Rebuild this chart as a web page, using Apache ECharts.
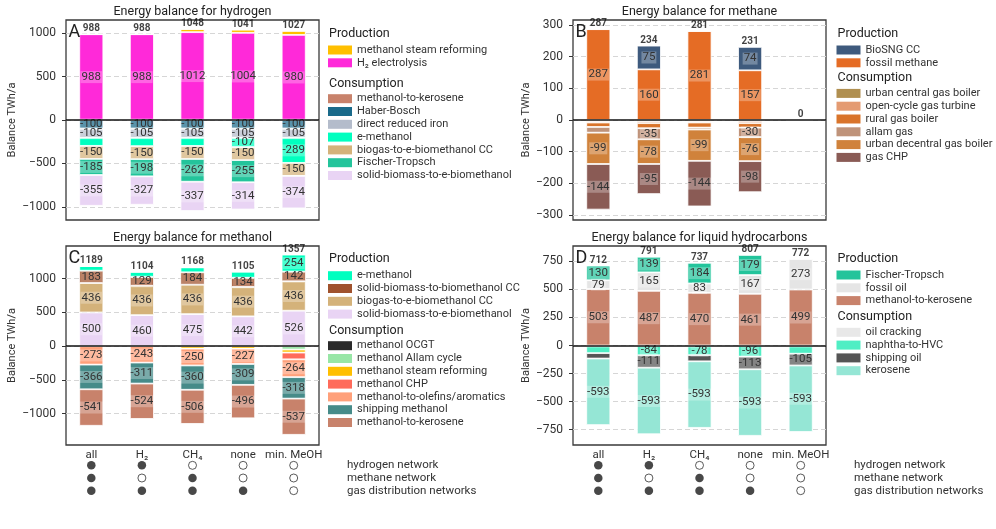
<!DOCTYPE html>
<html>
<head>
<meta charset="utf-8">
<script src="https://cdn.jsdelivr.net/npm/echarts@6/dist/echarts.min.js"></script>
<style>
  html, body { margin: 0; padding: 0; background: #fff; }
  #chart { width: 996px; height: 529px; }
</style>
</head>
<body>
<div id="chart"></div>
<script>
// scenarios and network flags
const scenarios = ['all', 'H₂', 'CH₄', 'none', 'min. MeOH'];
const networkRows = ['hydrogen network', 'methane network', 'gas distribution networks'];
const hydrogenNetwork = [1, 1, 0, 0, 0];
const methaneNetwork = [1, 0, 1, 0, 0];
const gasDistribution = [1, 1, 1, 1, 0];

// A - hydrogen (production listed top first, consumption listed from zero down)
const h2ProdNames = ['methanol steam reforming', 'H₂ electrolysis'];
const h2Prod = [
  [0, 0, 36, 37, 47],
  [988, 988, 1012, 1004, 980]
];
const h2ConsNames = ['methanol-to-kerosene', 'Haber-Bosch', 'direct reduced iron', 'e-methanol',
  'biogas-to-e-biomethanol CC', 'Fischer-Tropsch', 'solid-biomass-to-e-biomethanol'];
const h2Cons = [
  [0, 0, 0, 0, 0],
  [-100, -100, -100, -100, -100],
  [-105, -105, -105, -105, -105],
  [-93, -96, -94, -107, -289],
  [-150, -150, -150, -150, -150],
  [-185, -198, -262, -255, 0],
  [-355, -327, -337, -314, -374]
];
const h2Totals = [988, 988, 1048, 1041, 1027];

// B - methane
const ch4ProdNames = ['BioSNG CC', 'fossil methane'];
const ch4Prod = [
  [0, 75, 0, 74, 0],
  [287, 160, 281, 157, 0]
];
const ch4ConsNames = ['urban central gas boiler', 'open-cycle gas turbine', 'rural gas boiler',
  'allam gas', 'urban decentral gas boiler', 'gas CHP'];
const ch4Cons = [
  [-4, -4, -4, -3, 0],
  [-4, -6, -4, -7, 0],
  [-14, -16, -16, -14, 0],
  [-18, -35, -6, -30, 0],
  [-99, -78, -99, -76, 0],
  [-144, -95, -144, -98, 0]
];
const ch4Totals = [287, 234, 281, 231, 0];

// C - methanol
const meohProdNames = ['e-methanol', 'solid-biomass-to-biomethanol CC', 'biogas-to-e-biomethanol CC',
  'solid-biomass-to-e-biomethanol'];
const meohProd = [
  [70, 79, 73, 93, 254],
  [183, 129, 184, 134, 142],
  [436, 436, 436, 436, 436],
  [500, 460, 475, 442, 526]
];
const meohConsNames = ['methanol OCGT', 'methanol Allam cycle', 'methanol steam reforming', 'methanol CHP',
  'methanol-to-olefins/aromatics', 'shipping methanol', 'methanol-to-kerosene'];
const meohCons = [
  [0, 0, 0, 0, 0],
  [0, 0, 0, 0, -50],
  [0, 0, -36, -37, -45],
  [0, 0, 0, 0, -100],
  [-273, -243, -250, -227, -264],
  [-366, -311, -360, -309, -318],
  [-541, -524, -506, -496, -537]
];
const meohTotals = [1189, 1104, 1168, 1105, 1357];

// D - liquid hydrocarbons
const oilProdNames = ['Fischer-Tropsch', 'fossil oil', 'methanol-to-kerosene'];
const oilProd = [
  [130, 139, 184, 179, 0],
  [79, 165, 83, 167, 273],
  [503, 487, 470, 461, 499]
];
const oilConsNames = ['oil cracking', 'naphtha-to-HVC', 'shipping oil', 'kerosene'];
const oilCons = [
  [-8, -3, -8, -3, -8],
  [-60, -84, -78, -96, -65],
  [-48, -111, -55, -113, -105],
  [-593, -593, -593, -593, -593]
];
const oilTotals = [712, 791, 737, 807, 772];

// colours
const h2ProdColors = ['#ffbf00', '#ff29d9'];
const h2ConsColors = ['#c8826b', '#1a6a8a', '#b4bccb', '#00ffbf', '#d4b27a', '#23c49b', '#e9d4f4'];
const ch4ProdColors = ['#3e5a7d', '#e56c25'];
const ch4ConsColors = ['#b08f50', '#e49b72', '#d9742b', '#bf937a', '#d0823b', '#8a5b55'];
const meohProdColors = ['#00ffbf', '#a0522d', '#d4b27a', '#e9d4f4'];
const meohConsColors = ['#2b2b2b', '#98e6a6', '#ffbf00', '#ff6b5b', '#ffa07a', '#468b89', '#c8826b'];
const oilProdColors = ['#23c49b', '#e5e5e5', '#c8826b'];
const oilConsColors = ['#e8e8e8', '#50eec4', '#555555', '#95e6d5'];

const FONT = 'Roboto, "Noto Sans", sans-serif';

const panels = [
  { key: 'A', title: 'Energy balance for hydrogen', left: 66, top: 20, height: 200, min: -1152, max: 1152,
    ticks: [-1000, -500, 0, 500, 1000], nameGap: 48, labelMin: 99.5, showX: false,
    prodNames: h2ProdNames, prod: h2Prod, prodColors: h2ProdColors,
    consNames: h2ConsNames, cons: h2Cons, consColors: h2ConsColors, totals: h2Totals,
    legendLeft: 328, prodTop: 43.6, consTop: 92.3, prodHead: 35.7, consHead: 85 },
  { key: 'B', title: 'Energy balance for methane', left: 573, top: 20, height: 200, min: -316, max: 316,
    ticks: [-300, -200, -100, 0, 100, 200, 300], nameGap: 40, labelMin: 25, showX: false,
    prodNames: ch4ProdNames, prod: ch4Prod, prodColors: ch4ProdColors,
    consNames: ch4ConsNames, cons: ch4Cons, consColors: ch4ConsColors, totals: ch4Totals,
    legendLeft: 836.5, prodTop: 43.6, consTop: 87, prodHead: 35.7, consHead: 79.3 },
  { key: 'C', title: 'Energy balance for methanol', left: 66, top: 246, height: 199, min: -1465, max: 1485,
    ticks: [-1000, -500, 0, 500, 1000], nameGap: 48, labelMin: 120, showX: true,
    prodNames: meohProdNames, prod: meohProd, prodColors: meohProdColors,
    consNames: meohConsNames, cons: meohCons, consColors: meohConsColors, totals: meohTotals,
    legendLeft: 328, prodTop: 269.3, consTop: 339.3, prodHead: 260.7, consHead: 332.7 },
  { key: 'D', title: 'Energy balance for liquid hydrocarbons', left: 573, top: 246, height: 199, min: -887, max: 887,
    ticks: [-750, -500, -250, 0, 250, 500, 750], nameGap: 40, labelMin: 75, showX: true,
    prodNames: oilProdNames, prod: oilProd, prodColors: oilProdColors,
    consNames: oilConsNames, cons: oilCons, consColors: oilConsColors, totals: oilTotals,
    legendLeft: 836.5, prodTop: 268.6, consTop: 325.9, prodHead: 260.7, consHead: 318.3 }
];
const PW = 253;

const grid = [], xAxis = [], yAxis = [], series = [], legend = [], graphic = [];

function barSeries(p, i, name, values, color) {
  return {
    type: 'bar',
    name: p.key + '|' + name,
    xAxisIndex: i, yAxisIndex: i,
    stack: 'stack' + p.key,
    barWidth: 24,
    z: 10,
    itemStyle: { color: color, borderColor: '#fff', borderWidth: 0.8 },
    label: {
      position: 'inside', color: '#333', fontSize: 11.5, fontFamily: FONT,
      backgroundColor: 'rgba(255,255,255,0.28)', padding: [0, 1]
    },
    data: values.map(v => ({ value: v, label: { show: Math.abs(v) >= p.labelMin } }))
  };
}

panels.forEach((p, i) => {
  grid.push({ left: p.left, top: p.top, width: PW, height: p.height, show: true,
    borderColor: '#3a3a3a', borderWidth: 1.3 });
  xAxis.push({
    type: 'category', gridIndex: i, data: scenarios,
    axisLine: { show: false }, axisTick: { show: false },
    axisLabel: { show: p.showX, interval: 0, hideOverlap: false, color: '#333', fontSize: 11.5,
      fontFamily: FONT, margin: 4 }
  });
  yAxis.push({
    type: 'value', gridIndex: i, min: p.min, max: p.max,
    name: 'Balance TWh/a', nameLocation: 'middle', nameGap: p.nameGap,
    nameTextStyle: { fontSize: 11, color: '#333', fontFamily: FONT },
    axisLine: { show: false },
    axisTick: { show: true, length: 4, customValues: p.ticks, lineStyle: { color: '#333' } },
    axisLabel: { customValues: p.ticks, color: '#333', fontSize: 12, fontFamily: FONT, margin: 10,
      formatter: v => String(v).replace('-', '−') },
    splitLine: { show: true, lineStyle: { color: '#d6d6d6', type: [5, 3], width: 1 } }
  });
  // production, stacked bottom first
  for (let j = p.prod.length - 1; j >= 0; j--) {
    series.push(barSeries(p, i, p.prodNames[j], p.prod[j], p.prodColors[j]));
  }
  // consumption, stacked from zero downwards
  p.consNames.forEach((n, j) => series.push(barSeries(p, i, n, p.cons[j], p.consColors[j])));
  // totals on top + zero line
  series.push({
    type: 'scatter', name: p.key + '|total', xAxisIndex: i, yAxisIndex: i,
    symbolSize: 1, itemStyle: { color: 'rgba(0,0,0,0)' }, z: 20,
    label: { show: true, position: 'top', distance: 0, color: '#111', fontSize: 10,
      fontWeight: 'bold', fontFamily: FONT, formatter: d => d.value },
    data: p.totals,
    markLine: { silent: true, symbol: 'none', z: 20, label: { show: false },
      lineStyle: { color: '#111', width: 1.6, type: 'solid' }, data: [{ yAxis: 0 }] }
  });

  const legendBase = {
    orient: 'vertical', left: p.legendLeft, padding: 0, itemGap: 0,
    itemWidth: 24, itemHeight: 9, icon: 'rect', selectedMode: false,
    itemStyle: { borderWidth: 0 },
    textStyle: { fontSize: 11, color: '#333', fontFamily: FONT, lineHeight: 12.8 },
    formatter: n => n.split('|')[1]
  };
  legend.push(Object.assign({}, legendBase, { top: p.prodTop, data: p.prodNames.map(n => p.key + '|' + n) }));
  legend.push(Object.assign({}, legendBase, { top: p.consTop, data: p.consNames.map(n => p.key + '|' + n) }));

  graphic.push({ type: 'text', left: p.legendLeft + 1, top: p.prodHead - 8,
    style: { text: 'Production', fontSize: 12.5, fill: '#222', fontFamily: FONT } });
  graphic.push({ type: 'text', left: p.legendLeft + 1, top: p.consHead - 8,
    style: { text: 'Consumption', fontSize: 12.5, fill: '#222', fontFamily: FONT } });
  graphic.push({ type: 'text', x: p.left + PW / 2, y: p.top - 8.5,
    style: { text: p.title, fontSize: 12.5, fill: '#222', fontFamily: FONT,
      textAlign: 'center', textVerticalAlign: 'middle' } });
  graphic.push({ type: 'text', x: p.left + 2.5, y: p.top + 12, z: 30,
    style: { text: p.key, fontSize: 18, fill: '#222', fontFamily: FONT, textVerticalAlign: 'middle' } });
});

// network indicator dots under the lower panels
const flagRows = [hydrogenNetwork, methaneNetwork, gasDistribution];
[2, 3].forEach((pi, k) => {
  const p = panels[pi];
  const gi = 4 + k;
  grid.push({ left: p.left, top: 459, width: PW, height: 38 });
  xAxis.push({ type: 'category', gridIndex: gi, data: scenarios, show: false });
  yAxis.push({
    type: 'category', gridIndex: gi, data: networkRows, inverse: true, position: 'right',
    axisLine: { show: false }, axisTick: { show: false }, splitLine: { show: false },
    axisLabel: { interval: 0, hideOverlap: false, color: '#333', fontSize: 11.5, fontFamily: FONT, margin: 28 }
  });
  const filled = [], empty = [];
  flagRows.forEach((row, r) => row.forEach((f, c) => (f ? filled : empty).push([c, r])));
  series.push({ type: 'scatter', xAxisIndex: gi, yAxisIndex: gi, symbolSize: 8.5,
    itemStyle: { color: '#1a1a1a' }, data: filled, silent: true });
  series.push({ type: 'scatter', xAxisIndex: gi, yAxisIndex: gi, symbolSize: 8,
    itemStyle: { color: '#fff', borderColor: '#1a1a1a', borderWidth: 0.9 }, data: empty, silent: true });
});

const chart = echarts.init(document.getElementById('chart'), null, { renderer: 'canvas' });
chart.setOption({
  animation: false,
  backgroundColor: '#fff',
  textStyle: { fontFamily: FONT },
  grid, xAxis, yAxis, series, legend, graphic
});
window.addEventListener('resize', () => chart.resize());
</script>
</body>
</html>
